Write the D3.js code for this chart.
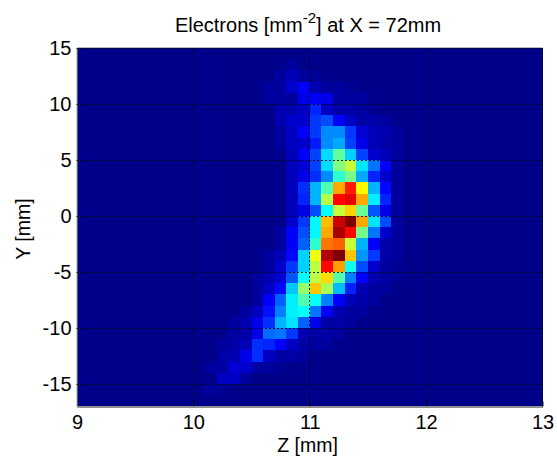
<!DOCTYPE html>
<html><head><meta charset="utf-8">
<script src="https://cdn.jsdelivr.net/npm/d3@7/dist/d3.min.js"></script>
<style>html,body{margin:0;padding:0;background:#fff}svg{display:block}
text{font-family:"Liberation Sans",Arial,sans-serif;fill:#000}</style></head>
<body><svg id="c" width="557" height="457"></svg>
<script>
// Electron density, percent of maximum. Rows run from Y=15 downward in 1 mm bins,
// columns from Z=9 in 0.1 mm bins.
const density = [
[0,0,0,0,0,0,0,0,0,0,0,0,0,0,0,0,0,0,0,0,0,0,0,0,0,0,0,0,0,0,0,0,0,0,0,0,0,0,0,0],
[0,0,0,0,0,0,0,0,0,0,0,0,0,0,0,0,0,0,2,0,0,0,0,0,0,0,0,0,0,0,0,0,0,0,0,0,0,0,0,0],
[0,0,0,0,0,0,0,0,0,0,0,0,0,0,0,0,0,2,5,2,1,0,0,0,0,0,0,0,0,0,0,0,0,0,0,0,0,0,0,0],
[0,0,0,0,0,0,0,0,0,0,0,0,0,0,0,0,2,2,7,12,4,2,2,1,0,0,0,0,0,0,0,0,0,0,0,0,0,0,0,0],
[0,0,0,0,0,0,0,0,0,0,0,0,0,0,0,0,2,2,2,10,12,10,2,2,2,0,0,0,0,0,0,0,0,0,0,0,0,0,0,0],
[0,0,0,0,0,0,0,0,0,0,0,0,0,0,0,0,0,4,4,6,16,6,3,3,2,1,0,0,0,0,0,0,0,0,0,0,0,0,0,0],
[0,0,0,0,0,0,0,0,0,0,0,0,0,0,0,0,0,4,7,7,18,20,12,6,3,3,2,0,0,0,0,0,0,0,0,0,0,0,0,0],
[0,0,0,0,0,0,0,0,0,0,0,0,0,0,0,0,0,2,6,12,18,26,26,18,8,5,4,2,0,0,0,0,0,0,0,0,0,0,0,0],
[0,0,0,0,0,0,0,0,0,0,0,0,0,0,0,0,0,2,6,7,15,26,29,19,10,5,3,2,0,0,0,0,0,0,0,0,0,0,0,0],
[0,0,0,0,0,0,0,0,0,0,0,0,0,0,0,0,0,0,5,12,19,34,47,33,19,7,5,2,0,0,0,0,0,0,0,0,0,0,0,0],
[0,0,0,0,0,0,0,0,0,0,0,0,0,0,0,0,0,0,5,8,19,34,50,57,35,24,12,2,0,0,0,0,0,0,0,0,0,0,0,0],
[0,0,0,0,0,0,0,0,0,0,0,0,0,0,0,0,0,0,5,10,17,26,42,49,29,16,7,2,0,0,0,0,0,0,0,0,0,0,0,0],
[0,0,0,0,0,0,0,0,0,0,0,0,0,0,0,0,0,0,5,17,30,45,71,85,63,30,13,2,0,0,0,0,0,0,0,0,0,0,0,0],
[0,0,0,0,0,0,0,0,0,0,0,0,0,0,0,0,0,0,5,16,30,55,87,90,71,36,16,2,0,0,0,0,0,0,0,0,0,0,0,0],
[0,0,0,0,0,0,0,0,0,0,0,0,0,0,0,0,0,0,5,10,20,38,57,67,48,21,10,2,0,0,0,0,0,0,0,0,0,0,0,0],
[0,0,0,0,0,0,0,0,0,0,0,0,0,0,0,0,0,0,7,18,37,69,92,100,71,35,20,2,0,0,0,0,0,0,0,0,0,0,0,0],
[0,0,0,0,0,0,0,0,0,0,0,0,0,0,0,0,0,2,12,20,37,71,96,87,49,24,7,2,0,0,0,0,0,0,0,0,0,0,0,0],
[0,0,0,0,0,0,0,0,0,0,0,0,0,0,0,0,0,2,12,22,42,76,78,57,30,12,3,2,0,0,0,0,0,0,0,0,0,0,0,0],
[0,0,0,0,0,0,0,0,0,0,0,0,0,0,0,0,2,5,13,33,61,95,100,68,27,18,3,2,0,0,0,0,0,0,0,0,0,0,0,0],
[0,0,0,0,0,0,0,0,0,0,0,0,0,0,0,0,2,7,18,33,56,87,72,39,20,7,2,1,0,0,0,0,0,0,0,0,0,0,0,0],
[0,0,0,0,0,0,0,0,0,0,0,0,0,0,0,2,4,8,21,38,56,66,46,25,12,4,2,1,0,0,0,0,0,0,0,0,0,0,0,0],
[0,0,0,0,0,0,0,0,0,0,0,0,0,0,0,2,6,13,32,52,68,54,31,16,4,2,2,0,0,0,0,0,0,0,0,0,0,0,0,0],
[0,0,0,0,0,0,0,0,0,0,0,0,0,0,0,2,12,22,36,45,38,25,12,5,3,2,0,0,0,0,0,0,0,0,0,0,0,0,0,0],
[0,0,0,0,0,0,0,0,0,0,0,0,0,0,2,6,14,25,36,38,24,12,4,2,2,0,0,0,0,0,0,0,0,0,0,0,0,0,0,0],
[0,0,0,0,0,0,0,0,0,0,0,0,0,2,4,10,17,30,35,22,10,3,3,2,0,0,0,0,0,0,0,0,0,0,0,0,0,0,0,0],
[0,0,0,0,0,0,0,0,0,0,0,0,0,2,3,10,23,24,18,4,3,3,2,0,0,0,0,0,0,0,0,0,0,0,0,0,0,0,0,0],
[0,0,0,0,0,0,0,0,0,0,0,0,2,3,5,17,16,12,6,3,2,2,0,0,0,0,0,0,0,0,0,0,0,0,0,0,0,0,0,0],
[0,0,0,0,0,0,0,0,0,0,0,0,3,4,10,17,6,3,3,2,0,0,0,0,0,0,0,0,0,0,0,0,0,0,0,0,0,0,0,0],
[0,0,0,0,0,0,0,0,0,0,0,2,2,8,7,2,2,1,0,0,0,0,0,0,0,0,0,0,0,0,0,0,0,0,0,0,0,0,0,0],
[0,0,0,0,0,0,0,0,0,0,0,0,6,6,2,0,0,0,0,0,0,0,0,0,0,0,0,0,0,0,0,0,0,0,0,0,0,0,0,0],
[0,0,0,0,0,0,0,0,0,0,0,2,1,0,0,0,0,0,0,0,0,0,0,0,0,0,0,0,0,0,0,0,0,0,0,0,0,0,0,0],
[0,0,0,0,0,0,0,0,0,0,0,0,0,0,0,0,0,0,0,0,0,0,0,0,0,0,0,0,0,0,0,0,0,0,0,0,0,0,0,0]
];
const zTicks = [9,10,11,12,13];
const yTicks = [15,10,5,0,-5,-10,-15];
const zBinWidth = 0.1, yBinHeight = 1, zStart = 9, yStart = 15;

const jetStops = [[0,[0,0,139]],[0.125,[0,0,255]],[0.375,[0,255,255]],[0.625,[255,255,0]],[0.875,[255,0,0]],[1,[128,0,0]]];
const jet = d3.scaleLinear().domain(jetStops.map(d=>d[0])).range(jetStops.map(d=>`rgb(${d[1]})`)).clamp(true);

const svg = d3.select('#c');
const x = d3.scaleLinear().domain([9,13]).range([77,542.5]);
const y = d3.scaleLinear().domain([15,-17]).range([48,406.4]);

const cells = density.flatMap((row,r)=>row.map((v,c)=>({r,c,v})));
svg.append('g').attr('shape-rendering','crispEdges').selectAll('rect').data(cells).join('rect')
  .attr('x',d=>Math.round(x(zStart+d.c*zBinWidth)))
  .attr('y',d=>Math.round(y(yStart-d.r*yBinHeight)))
  .attr('width',d=>Math.round(x(zStart+(d.c+1)*zBinWidth))-Math.round(x(zStart+d.c*zBinWidth)))
  .attr('height',d=>Math.round(y(yStart-(d.r+1)*yBinHeight))-Math.round(y(yStart-d.r*yBinHeight)))
  .attr('fill',d=>jet(d.v/100));

// grid
const grid = svg.append('g').attr('stroke','#000').attr('stroke-width',1).attr('stroke-dasharray','1.5 2.5').attr('shape-rendering','crispEdges').attr('stroke-opacity',0.85);
grid.selectAll('.v').data(zTicks).join('line').attr('x1',d=>x(d)).attr('x2',d=>x(d)).attr('y1',y.range()[0]).attr('y2',y.range()[1]);
grid.selectAll('.h').data(yTicks).join('line').attr('y1',d=>y(d)).attr('y2',d=>y(d)).attr('x1',x.range()[0]).attr('x2',x.range()[1]);

const tickText = d => String(d);
const bottom = svg.append('g').attr('transform',`translate(0,${Math.round(y.range()[1])+0.5})`)
  .call(d3.axisBottom(x).tickValues(zTicks).tickFormat(tickText).tickSizeInner(-5).tickSizeOuter(0).tickPadding(8));
const left = svg.append('g').attr('transform',`translate(${x.range()[0]-0.5},0)`)
  .call(d3.axisLeft(y).tickValues(yTicks).tickFormat(tickText).tickSizeInner(-5).tickSizeOuter(0).tickPadding(5));
[bottom,left].forEach(a=>{a.selectAll('text').attr('font-size',20).attr('fill','#000');a.selectAll('line').attr('stroke','#111');});
bottom.select('.domain').attr('stroke','#222');
left.select('.domain').attr('stroke','#aaa');
svg.append('line').attr('x1',x.range()[0]).attr('x2',x.range()[1]).attr('y1',47.5).attr('y2',47.5).attr('stroke','#bbb');

svg.append('text').attr('x',307.5).attr('y',452).attr('text-anchor','middle').attr('font-size',19.5).text('Z [mm]');
svg.append('text').attr('transform','translate(30,229) rotate(-90)').attr('text-anchor','middle').attr('font-size',19.5).text('Y [mm]');
const title = svg.append('text').attr('x',308).attr('y',32).attr('text-anchor','middle').attr('font-size',20);
title.append('tspan').text('Electrons [mm');
title.append('tspan').attr('dy',-9).attr('font-size',15).text('-2');
title.append('tspan').attr('dy',9).text('] at X = 72mm');
</script></body></html>
